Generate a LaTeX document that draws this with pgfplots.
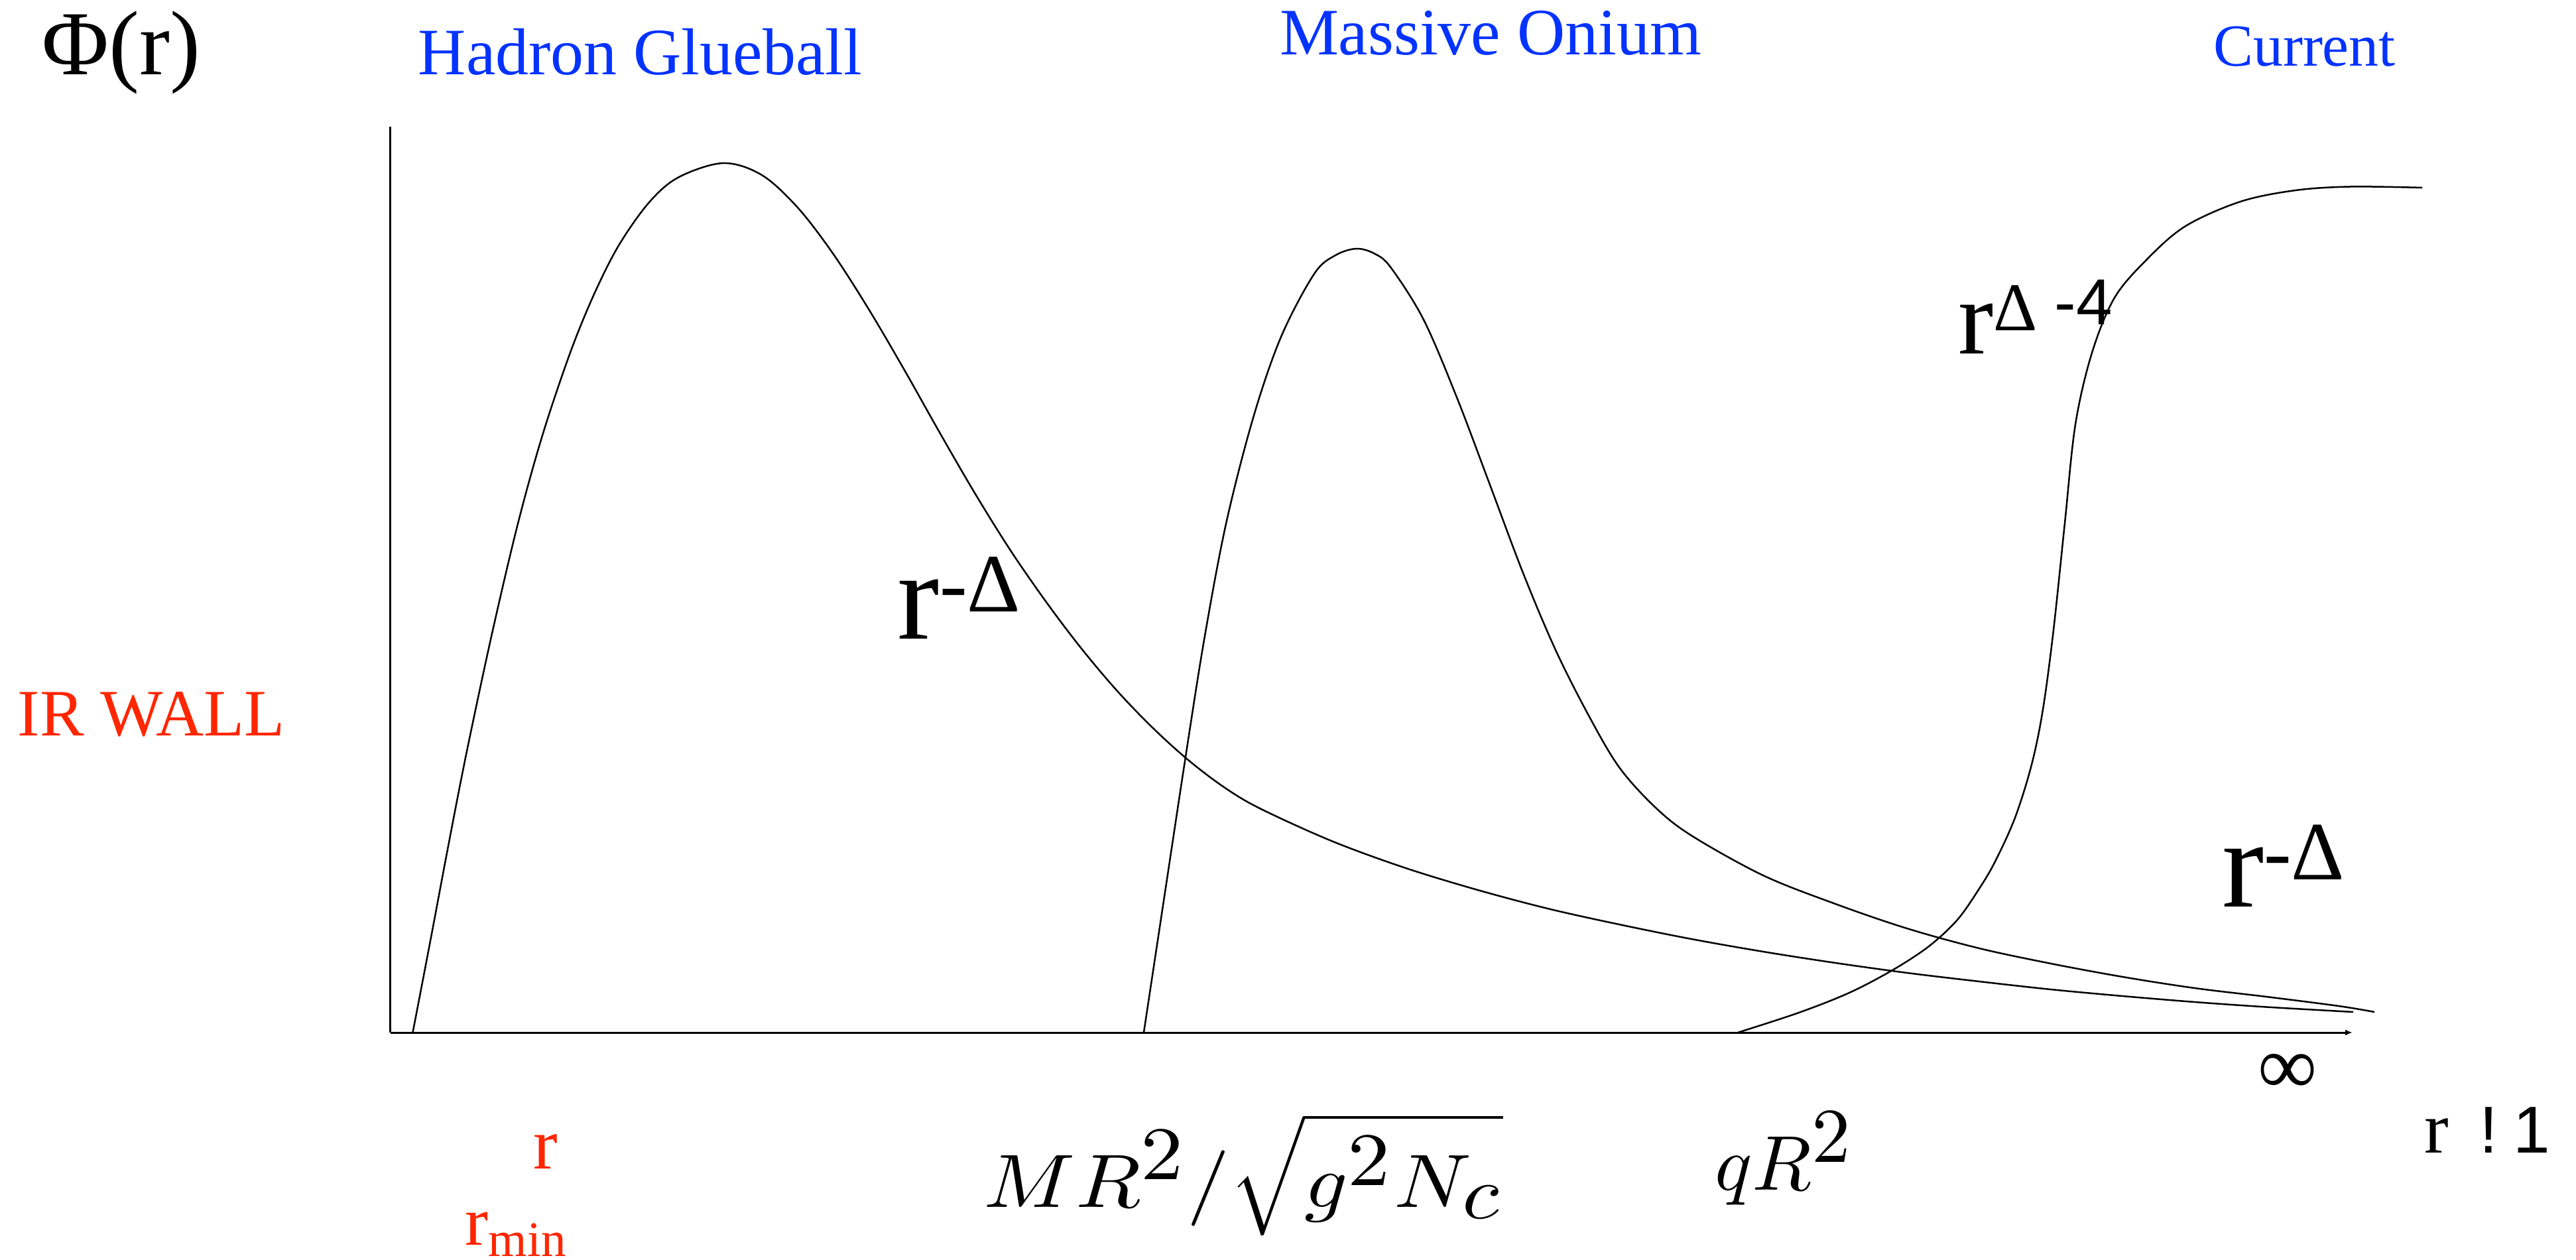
\RequirePackage{fix-cm}
\documentclass[border=0pt]{standalone}
\usepackage[no-math]{fontspec}
\setmainfont{Liberation Serif}
\newfontfamily\sansf{Liberation Sans}
\usepackage{graphicx}
\usepackage{pgfplots}
\pgfplotsset{compat=1.18}
\usetikzlibrary{arrows.meta}

\definecolor{labelblue}{RGB}{4,51,255}
\definecolor{wallred}{RGB}{255,38,0}
\newcommand{\fs}[1]{\fontsize{#1}{#1}\selectfont}
\tikzset{profile/.style={black, line width=0.25pt, smooth, tension=0.55, mark=none}}

\begin{document}
\begin{tikzpicture}
\begin{axis}[
  at={(0,0)}, anchor=origin,
  x=0.1pt, y=0.1pt,
  xmin=0, xmax=2959, ymin=0, ymax=1366,
  axis x line=bottom, axis y line=left,
  xtick=\empty, ytick=\empty,
  axis line style={line width=0.3pt, black},
  x axis line style={-{Latex[length=1.1pt,width=0.9pt]}},
  y axis line style={-},
  clip=false,
]
% hadron glueball profile
\addplot[profile] coordinates {
(33.5,0) (60,138) (87,281) (114,419) (150,588) (185,739) (212,842) (239,932)
(275,1036) (310,1120) (346,1190) (391,1253) (435,1290) (502,1311) (560,1293)
(614,1244) (667,1175) (721,1091) (775,999) (828,905) (882,812) (935,727)
(989,649) (1042,579) (1096,515) (1150,459) (1203,411) (1257,370) (1311,338)
(1419,289) (1528,249) (1636,216) (1745,187) (1853,163) (1962,141) (2070,122)
(2179,105) (2287,90) (2396,77) (2504,65) (2612,55) (2721,46) (2829,38.5) (2960,31)
};
% massive onium profile
\addplot[profile] coordinates {
(1136,0) (1169,218) (1198,409) (1227,592) (1260,767) (1301,927) (1343,1049)
(1393,1144) (1425,1172) (1457,1182) (1485,1174) (1509,1153) (1558,1075)
(1608,958) (1658,826) (1708,693) (1757,577) (1807,478) (1853,400) (1907,340)
(1962,297) (2070,237) (2179,194) (2287,157) (2396,127) (2504,104) (2612,84)
(2721,67) (2829,54) (2938,40) (2992,31)
};
% current profile
\addplot[profile] coordinates {
(2032,0) (2124,30) (2200,60) (2265,94) (2320,130) (2363,170) (2396,217)
(2420,258) (2450,324) (2475,404) (2492,487) (2508,607) (2525,768) (2541,917)
(2566,1025) (2600,1108) (2649,1166) (2707,1216) (2790,1253) (2873,1270)
(2956,1275.5) (3064,1274)
};

% headings
\node[anchor=base west, inner sep=0, font=\fs{13.8}] at (axis cs:-527,1444) {Φ(r)};
\node[anchor=base west, inner sep=0, font=\fs{10}, text=labelblue] at (axis cs:40,1444) {Hadron Glueball};
\node[anchor=base west, inner sep=0, font=\fs{10}, text=labelblue] at (axis cs:1339,1474) {Massive Onium};
\node[anchor=base west, inner sep=0, font=\fs{9}, text=labelblue] at (axis cs:2747,1457) {Current};
\node[anchor=base west, inner sep=0, font=\fs{10}, text=wallred] at (axis cs:-564,447) {IR WALL};

% asymptotic behaviour labels
\node[anchor=base west, inner sep=0] at (axis cs:763,593)
  {{\fs{19}r}\raisebox{4.1pt}{\fs{12.5}-Δ}};
\node[anchor=base west, inner sep=0] at (axis cs:2760,189)
  {{\fs{19}r}\raisebox{4.1pt}{\fs{12.5}-Δ}};
\node[anchor=base west, inner sep=0] at (axis cs:2362,1023.5)
  {{\fs{16}r}\raisebox{3.45pt}{\fs{10.3}Δ}\hspace{2.6pt}\raisebox{4.4pt}{\sansf\fs{9.8}-4}};

% positions along r
\node[anchor=center, inner sep=0, font=\fs{12.5}] at (axis cs:2860.6,-63) {∞};
\node[anchor=base west, inner sep=0] at (axis cs:3065,-181)
  {{\fs{11}r}\hspace{4.7pt}{\sansf\fs{10}!\hspace{2.3pt}1}};
\node[anchor=base west, inner sep=0, text=wallred] at (axis cs:214,-205) {\fs{11}r};
\node[anchor=base west, inner sep=0, text=wallred] at (axis cs:111,-321)
  {{\fs{10.5}r}\raisebox{-1.7pt}{\fs{7.5}min}};
\node[anchor=base west, inner sep=0, font=\fs{11.4}] at (axis cs:893,-263)
  {\scalebox{1.125}[1]{$MR^{\textstyle 2}/\sqrt{g^{\textstyle 2}N_{\textstyle c}}$}};
\node[anchor=base west, inner sep=0, font=\fs{11.7}] at (axis cs:1995,-238)
  {$qR^{\textstyle 2}$};
\end{axis}
\pgfresetboundingbox
\path[use as bounding box] (-58.9pt,-34.3pt) rectangle (329.6pt,155.7pt);
\end{tikzpicture}
\end{document}
